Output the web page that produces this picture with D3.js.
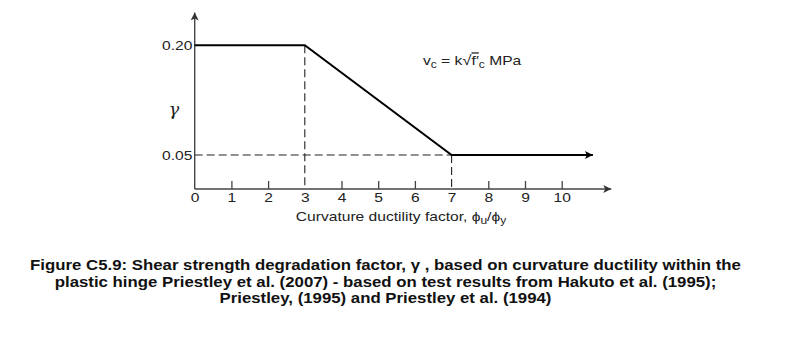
<!DOCTYPE html>
<html><head><meta charset="utf-8">
<script src="https://cdn.jsdelivr.net/npm/d3@7"></script>
<style>body{margin:0;background:#fff}svg{display:block}</style>
</head><body>
<svg id="c" width="800" height="342"></svg>
<script>
// ---- data ----
const xTicks = [0,1,2,3,4,5,6,7,8,9,10];
const yTicks = [0.20, 0.05];
const yTickLabels = ["0.20", "0.05"];
const curveX = [0, 3, 7, 10.85];
const curveY = [0.20, 0.20, 0.05, 0.05];
const guideH = [[0,0.05],[7,0.05]];
const guideV3 = [[3,0.20],[3,0.0035]];
const guideV7 = [[7,0.05],[7,0.0035]];
const xAxisMax = 11.35, yAxisMin = 0.0035, yAxisMax = 0.245;
const captionLines = [
  "Figure C5.9: Shear strength degradation factor, \u03B3 , based on curvature ductility within the",
  "plastic hinge Priestley et al. (2007) - based on test results from Hakuto et al. (1995);",
  "Priestley, (1995) and Priestley et al. (1994)"
];

const SX = 1.2; // horizontal stretch of the reference's lettering
const svg = d3.select("#c");
const x = d3.scaleLinear().domain([0, 10]).range([194.7, 561.7]);
const y = d3.scaleLinear().domain([0.05, 0.20]).range([155, 45.3]);

const defs = svg.append("defs");
defs.append("marker").attr("id","arrA").attr("viewBox","0 0 10 10").attr("refX",10).attr("refY",5)
  .attr("markerUnits","userSpaceOnUse").attr("markerWidth",14).attr("markerHeight",8).attr("orient","auto")
  .append("path").attr("d","M0,0L10,5L0,10L2.5,5Z").attr("fill","#333");
defs.append("marker").attr("id","arrD").attr("viewBox","0 0 10 10").attr("refX",10).attr("refY",5)
  .attr("markerUnits","userSpaceOnUse").attr("markerWidth",16).attr("markerHeight",8).attr("orient","auto")
  .append("path").attr("d","M0,0L10,5L0,10L2.5,5Z").attr("fill","#000");

const line = d3.line().x(d=>x(d[0])).y(d=>y(d[1]));
const font = "'Liberation Sans', Arial, Helvetica, sans-serif";

// dashed guides
[guideH, guideV3, guideV7].forEach(g=>{
  svg.append("path").attr("d", line(g)).attr("fill","none").attr("stroke","#222")
    .attr("stroke-width",1.1).attr("stroke-dasharray","8,4");
});

// axes
svg.append("path").attr("d", line([[0,yAxisMin],[xAxisMax,yAxisMin]]))
  .attr("stroke","#444").attr("stroke-width",1.4).attr("fill","none").attr("marker-end","url(#arrA)");
svg.append("path").attr("d", line([[0,yAxisMin],[0,yAxisMax]]))
  .attr("stroke","#444").attr("stroke-width",1.4).attr("fill","none").attr("marker-end","url(#arrA)");

// x ticks via d3 axis
const xAxis = d3.axisBottom(x).tickValues(xTicks).tickSize(0).tickPadding(4).tickFormat(d3.format("d"));
const gx = svg.append("g").attr("transform",`translate(0,${y(yAxisMin)})`).call(xAxis);
gx.select(".domain").remove();
gx.selectAll(".tick text").attr("font-family",font).attr("font-size",13).attr("fill","#222")
  .attr("transform",`scale(${SX},1)`);
gx.selectAll(".tick").filter(d=>d!==0 && d!==3 && d!==7).append("line")
  .attr("y1",0).attr("y2",-8).attr("stroke","#444").attr("stroke-width",1.3);

// y tick labels
const yAxis = d3.axisLeft(y).tickValues(yTicks).tickSize(0).tickPadding(2)
  .tickFormat((d,i)=>yTickLabels[i]);
const gy = svg.append("g").attr("transform",`translate(${x(0)},0)`).call(yAxis);
gy.select(".domain").remove();
gy.selectAll(".tick text").attr("font-family",font).attr("font-size",13).attr("fill","#222")
  .attr("transform",`scale(${SX},1)`);

// data curve
svg.append("path").attr("d", line(curveX.map((v,i)=>[v,curveY[i]])))
  .attr("fill","none").attr("stroke","#000").attr("stroke-width",2).attr("marker-end","url(#arrD)");

// gamma label
svg.append("text").attr("transform","translate(174,115) scale(1.1,1)").attr("text-anchor","middle")
  .attr("font-family","'DejaVu Serif', 'Liberation Serif', serif").attr("font-style","italic")
  .attr("font-size",16).attr("fill","#222").text("\u03B3");

// formula
const f = svg.append("text").attr("transform",`translate(423,65) scale(${SX},1)`)
  .attr("font-family",font).attr("font-size",13).attr("fill","#222");
f.append("tspan").text("v");
f.append("tspan").attr("dy",3).attr("font-size",10).text("c");
f.append("tspan").attr("dy",-3).text(" = k");
f.append("tspan").attr("font-size",14).text("\u221A");
f.append("tspan").style("text-decoration","overline").text("f\u2032");
f.append("tspan").attr("dy",3).attr("font-size",10).text("c");
f.append("tspan").attr("dy",-3).text("  MPa");

// x title
const t = svg.append("text").attr("transform",`translate(401,221) scale(${SX},1)`).attr("text-anchor","middle")
  .attr("font-family",font).attr("font-size",13).attr("fill","#222");
t.append("tspan").text("Curvature ductility factor, \u03D5");
t.append("tspan").attr("dy",3).attr("font-size",10).text("u");
t.append("tspan").attr("dy",-3).text("/\u03D5");
t.append("tspan").attr("dy",3).attr("font-size",10).text("y");

// caption
const capY = [270, 287, 303];
captionLines.forEach((s,i)=>{
  svg.append("text").attr("transform",`translate(385.5,${capY[i]}) scale(${SX},1)`)
    .attr("text-anchor","middle").attr("font-family",font)
    .attr("font-weight","bold").attr("font-size",14).attr("fill","#111").text(s);
});
</script>
</body></html>
